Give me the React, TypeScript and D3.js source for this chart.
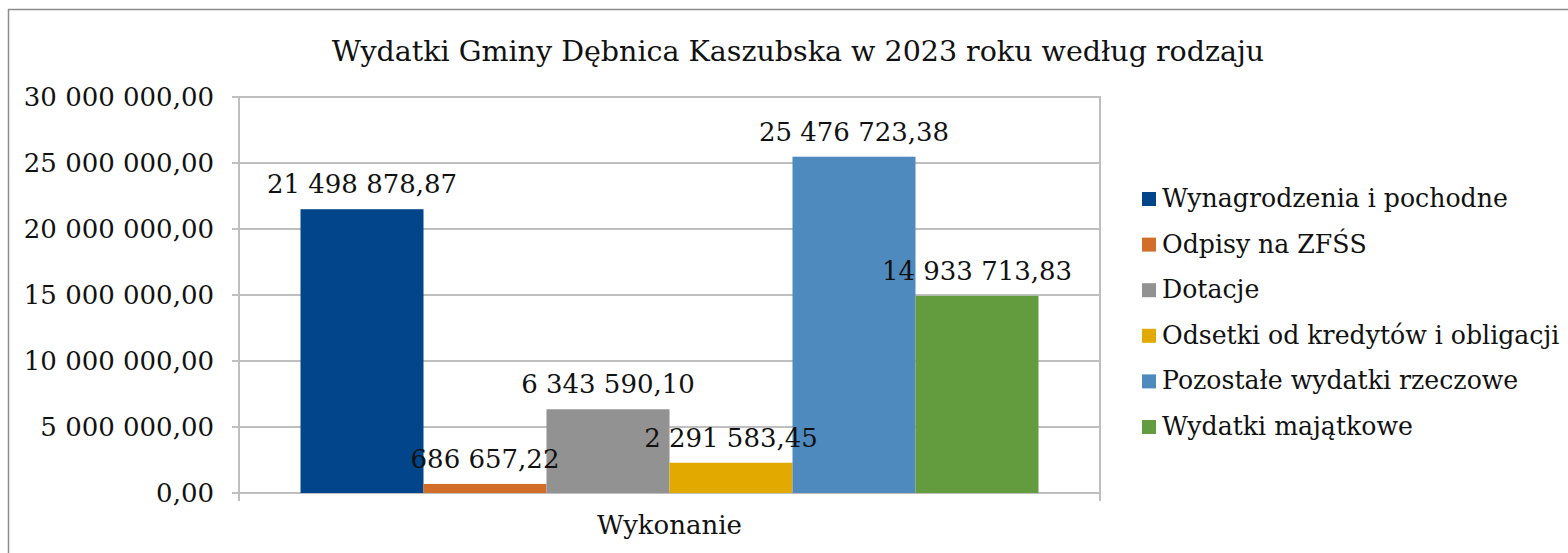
import React from "react";
import * as d3 from "d3";

const title = "Wydatki Gminy Dębnica Kaszubska w 2023 roku według rodzaju";
const categories = ["Wykonanie"];
const seriesNames = [
  "Wynagrodzenia i pochodne",
  "Odpisy na ZFŚS",
  "Dotacje",
  "Odsetki od kredytów i obligacji",
  "Pozostałe wydatki rzeczowe",
  "Wydatki majątkowe",
];
const seriesValues = [21498878.87, 686657.22, 6343590.1, 2291583.45, 25476723.38, 14933713.83];
const seriesColors = ["#02458A", "#D26E2A", "#929292", "#E2AA00", "#4F8ABE", "#629C3F"];
const yTicks = [0, 5000000, 10000000, 15000000, 20000000, 25000000, 30000000];

const fmt = (v: number) => {
  const s = v.toFixed(2);
  const [i, d] = s.split(".");
  return i.replace(/\B(?=(\d{3})+(?!\d))/g, " ") + "," + d;
};

const FONT = "'DejaVu Serif', serif";

export default function App() {
  const plot = { left: 239, right: 1100, top: 97, bottom: 493 };
  const y = d3.scaleLinear().domain([0, 30000000]).range([plot.bottom, plot.top]);
  const xCat = d3.scaleBand().domain(categories).range([plot.left, plot.right]).paddingInner(0).paddingOuter(0);
  const bw = xCat.bandwidth();
  const inner = d3
    .scaleBand()
    .domain(seriesNames)
    .range([0, bw])
    .paddingInner(0)
    .paddingOuter(0.5);
  const grid = "#bfbfbf";
  return (
    <svg
      width={1568}
      height={553}
      style={{ position: "absolute", left: 0, top: 0, background: "#fff" }}
      fontFamily={FONT}
    >
      <rect x={8.5} y={9.5} width={1700} height={700} fill="#fff" stroke="#8c8c8c" strokeWidth={1.5} />
      <text x={798} y={61} textAnchor="middle" fontSize={28.5} fill="#111">
        {title}
      </text>
      {yTicks.map((t) => (
        <g key={t}>
          <line x1={232} x2={plot.right} y1={y(t)} y2={y(t)} stroke={grid} strokeWidth={2} />
          <text x={214} y={y(t) + 8.5} textAnchor="end" fontSize={26} fill="#111">
            {fmt(t)}
          </text>
        </g>
      ))}
      <line x1={plot.left} x2={plot.left} y1={plot.top} y2={501} stroke={grid} strokeWidth={2} />
      <line x1={plot.right} x2={plot.right} y1={plot.top - 1} y2={501} stroke={grid} strokeWidth={2} />
      {categories.map((c) => (
        <g key={c}>
          {seriesNames.map((s, i) => {
            const x0 = (xCat(c) as number) + (inner(s) as number);
            const v = seriesValues[i];
            return (
              <rect
                key={s}
                x={x0}
                y={y(v)}
                width={inner.bandwidth()}
                height={plot.bottom - y(v)}
                fill={seriesColors[i]}
              />
            );
          })}
          {seriesNames.map((s, i) => {
            const x0 = (xCat(c) as number) + (inner(s) as number);
            const v = seriesValues[i];
            return (
              <text
                key={s + "l"}
                x={x0 + inner.bandwidth() / 2}
                y={y(v) - 16}
                textAnchor="middle"
                fontSize={26}
                fill="#111"
              >
                {fmt(v)}
              </text>
            );
          })}
          <text
            x={(xCat(c) as number) + bw / 2}
            y={534}
            textAnchor="middle"
            fontSize={26}
            fill="#111"
          >
            {c}
          </text>
        </g>
      ))}
      {seriesNames.map((s, i) => {
        const cy = 199 + i * 45.6;
        return (
          <g key={s}>
            <rect x={1142} y={cy - 7} width={14} height={14} fill={seriesColors[i]} />
            <text x={1162} y={cy + 8} fontSize={25.2} fill="#111">
              {s}
            </text>
          </g>
        );
      })}
    </svg>
  );
}
